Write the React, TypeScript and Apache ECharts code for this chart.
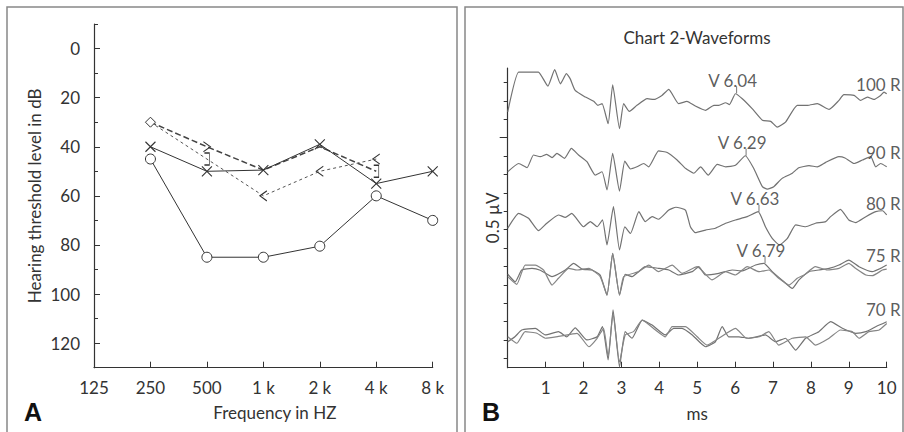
import React, { useEffect, useRef } from "react";
import * as echarts from "echarts";

// ---------- Panel A: audiogram ----------
const freqLabels = ["125", "250", "500", "1 k", "2 k", "4 k", "8 k"];
const dbMajorTicks = [0, 20, 40, 60, 80, 100, 120];
const dbMinorTicks = [-10, 10, 30, 50, 70, 90, 110];
// index in freqLabels, dB
const acCircle = [[1, 45], [2, 85], [3, 85], [4, 80.5], [5, 60], [6, 70]];
const acCross = [[1, 40], [2, 50], [3, 49.5], [4, 39], [5, 55], [6, 50]];
const bcLong = [[1, 30], [2, 40], [3, 49.5], [4, 40], [5, 50]];
const bcShort = [[1, 30], [2, 45], [3, 60], [4, 50], [5, 45]];

// ---------- Panel B: waveforms (ms, amplitude in tick units) ----------
const msTicks = [1, 2, 3, 4, 5, 6, 7, 8, 9, 10];
const ampTicks = [0.5, 1.5, 2.5, 3.5, 4.5, 5.5, 6.5, 7.5, 8.5, 9.5, 10.5, 11.5, 12.5, 13.5, 14.5, 15.5];
const ampLongTick = [12.5];
const wave100 = [[0,13.9],[0.29,16.07],[0.59,16.07],[0.81,16.07],[1.06,15.31],[1.24,16.2],[1.39,15.43],[1.55,15.98],[1.65,15.7],[1.78,15.07],[2.05,14.71],[2.27,14.48],[2.38,14.26],[2.49,14.35],[2.65,13.26],[2.77,15.38],[2.95,12.99],[3.06,14.35],[3.21,13.93],[3.41,14.26],[3.68,14.62],[3.85,14.58],[4.07,14.8],[4.25,15.13],[4.51,14.35],[4.73,14.48],[4.95,14.22],[5.22,13.99],[5.44,14.26],[5.57,14.26],[5.75,14.4],[5.85,14.3],[6.01,14.89],[6.19,14.62],[6.45,14.08],[6.72,13.45],[6.94,13.39],[7.11,13.08],[7.33,13.35],[7.64,14.26],[7.91,14.26],[8.17,14.35],[8.48,14.04],[8.74,14.53],[8.87,14.84],[9.14,14.8],[9.31,14.53],[9.49,14.71],[9.66,14.58],[9.84,14.8],[9.93,14.98],[10.0,14.89]];
const wave90 = [[0,10.65],[0.29,11.1],[0.51,10.87],[0.68,11.56],[0.86,11.47],[1.03,11.6],[1.17,11.42],[1.3,11.65],[1.5,11.38],[1.68,11.92],[1.87,11.56],[2.09,11.2],[2.31,10.47],[2.49,10.65],[2.62,9.66],[2.77,11.65],[2.95,9.6],[3.09,11.23],[3.24,10.8],[3.41,10.92],[3.59,11.1],[3.72,10.92],[3.98,11.78],[4.21,11.7],[4.47,11.29],[4.69,10.84],[4.91,10.57],[5.09,10.92],[5.29,10.47],[5.53,11.05],[5.75,10.92],[6.01,11.0],[6.27,11.52],[6.49,10.84],[6.72,9.84],[6.85,9.71],[7.02,9.84],[7.24,10.29],[7.51,10.57],[7.68,10.87],[7.95,10.98],[8.17,10.92],[8.39,11.16],[8.74,11.47],[8.9,11.4],[9.14,11.1],[9.36,11.29],[9.58,11.47],[9.71,10.92],[9.84,11.1],[10.0,10.92]];
const wave80 = [[0,7.58],[0.29,8.39],[0.55,8.12],[0.81,7.45],[1.03,7.85],[1.34,8.3],[1.52,8.17],[1.69,8.39],[2.0,7.66],[2.18,7.94],[2.36,7.66],[2.5,8.03],[2.62,6.67],[2.79,8.75],[2.95,6.4],[3.09,7.66],[3.24,7.3],[3.46,8.48],[3.63,7.94],[3.81,8.21],[3.98,8.07],[4.25,8.57],[4.44,8.72],[4.69,8.57],[4.82,7.66],[4.95,7.34],[5.22,7.48],[5.48,7.58],[5.75,7.85],[6.01,8.03],[6.32,8.21],[6.61,8.48],[6.8,7.66],[6.98,7.03],[7.17,6.67],[7.38,7.03],[7.6,7.76],[7.86,7.66],[8.12,7.85],[8.39,7.94],[8.52,8.21],[8.78,8.61],[9.0,8.03],[9.18,7.89],[9.45,8.21],[9.71,8.48],[9.89,8.53],[10.0,8.3]];
const wave75a = [[0,5.08],[0.2,4.67],[0.37,5.31],[0.64,5.4],[0.86,5.3],[1.17,4.95],[1.52,5.31],[1.74,5.67],[1.96,5.36],[2.22,5.31],[2.44,5.04],[2.62,3.95],[2.77,6.22],[2.95,3.95],[3.1,5.08],[3.28,4.95],[3.63,5.49],[3.98,5.4],[4.25,5.31],[4.51,5.04],[4.87,5.22],[5.04,5.49],[5.22,5.04],[5.57,5.13],[5.92,5.31],[6.19,5.26],[6.54,5.58],[6.76,5.67],[6.98,5.22],[7.29,4.67],[7.51,4.31],[7.68,4.76],[7.95,5.22],[8.21,5.31],[8.48,5.4],[8.74,5.58],[9.0,5.85],[9.27,5.49],[9.62,5.22],[9.84,5.4],[10.0,5.58]];
const wave75b = [[0,4.95],[0.24,4.53],[0.46,5.58],[0.73,5.58],[0.95,5.3],[1.17,4.49],[1.34,4.86],[1.61,5.4],[1.83,5.31],[2.14,5.4],[2.44,4.95],[2.62,3.95],[2.77,6.22],[2.95,3.95],[3.06,4.95],[3.46,5.22],[3.72,5.58],[3.98,5.22],[4.34,5.58],[4.6,5.13],[5.0,5.49],[5.39,4.77],[5.75,5.22],[6.01,5.04],[6.32,5.49],[6.63,5.22],[6.89,5.31],[7.15,4.86],[7.42,4.49],[7.64,4.86],[7.82,5.04],[8.12,5.49],[8.43,5.31],[8.74,5.4],[9.0,5.67],[9.18,5.4],[9.45,5.04],[9.62,5.0],[9.89,5.31],[10.0,5.36]];
const wave70a = [[0,1.41],[0.19,1.68],[0.37,2.05],[0.73,2.14],[0.99,1.78],[1.34,1.96],[1.56,1.68],[1.78,2.17],[2.09,1.51],[2.36,1.68],[2.5,2.23],[2.65,0.42],[2.78,3.14],[2.95,0.05],[3.1,1.96],[3.28,1.6],[3.55,2.59],[3.81,2.32],[4.16,1.78],[4.38,2.14],[4.6,2.14],[4.87,1.78],[5.22,1.14],[5.48,1.41],[5.66,2.23],[5.83,1.68],[6.1,1.68],[6.36,1.6],[6.8,1.78],[7.07,1.41],[7.33,1.6],[7.6,0.96],[7.86,1.6],[8.21,1.96],[8.52,2.5],[8.83,2.14],[9.18,1.87],[9.45,1.96],[9.71,2.23],[10.0,2.5]];
const wave70b = [[0,1.68],[0.24,1.33],[0.46,1.96],[0.77,1.87],[0.99,1.6],[1.34,1.7],[1.83,1.87],[2.14,1.14],[2.36,1.6],[2.53,2.14],[2.65,0.6],[2.78,2.95],[2.95,0.3],[3.1,1.78],[3.32,1.96],[3.55,2.59],[3.9,2.05],[4.16,1.68],[4.34,2.23],[4.69,2.23],[5.0,1.68],[5.26,1.23],[5.57,1.6],[6.01,2.14],[6.3,1.6],[6.63,1.68],[6.89,1.96],[7.15,1.23],[7.51,1.6],[7.86,1.68],[8.12,1.23],[8.48,1.6],[8.78,2.05],[9.09,1.96],[9.27,1.6],[9.53,1.96],[9.8,2.05],[10.0,2.4]];
const peakNames = ["V 6.04", "V 6.29", "V 6.63", "V 6.79"];
const peakPoints = [[6.04, 14.95], [6.29, 11.55], [6.63, 8.5], [6.79, 5.7]];
const traceNames = ["100 R", "90 R", "80 R", "75 R", "70 R"];
const traceLabelPos = [15.42, 11.7, 8.9, 6.12, 3.14];

const FONT = "Lato";
const INK = "#333";

const SYM_CROSS = "path://M0,0L10,10M10,0L0,10";
const SYM_DIAMOND = "path://M5,0L10,5L5,10L0,5Z";
const SYM_GT = "path://M0,0L8,5L0,10";
const SYM_LT = "path://M8,0L0,5L8,10";
const SYM_BRACKET = "path://M0,0L5,0L5,12L0,12";

function openSym(symbol: string, size: any) {
  return {
    symbol,
    symbolSize: size,
    itemStyle: { color: "rgba(0,0,0,0)", borderColor: INK, borderWidth: 1 },
  };
}

export default function App() {
  const ref = useRef<HTMLDivElement>(null);
  useEffect(() => {
    if (!ref.current) return;
    const chart = echarts.init(ref.current, null, { renderer: "svg" });
    const labelStyle = { fontFamily: FONT, fontSize: 17, color: INK };

    const bcLongData = bcLong.map((p, i) => {
      if (i === 0) return { value: p, symbol: SYM_DIAMOND, symbolSize: 10, itemStyle: { color: "#fff", borderColor: INK, borderWidth: 1 } };
      if (i === 1) return { value: p, ...openSym(SYM_GT, [7, 10]) };
      if (i === 4) return { value: p, ...openSym(SYM_BRACKET, [5, 12]) };
      return { value: p, symbol: "none" };
    });
    const bcShortData = bcShort.map((p, i) => {
      if (i === 0) return { value: p, symbol: "none" };
      if (i === 1) return { value: p, ...openSym(SYM_BRACKET, [5, 12]) };
      return { value: p, ...openSym(SYM_LT, [7, 10]) };
    });

    const waveSeries = [wave100, wave90, wave80, wave75a, wave75b, wave70a, wave70b].map((w, i) => ({
      type: "line",
      xAxisIndex: 1,
      yAxisIndex: 2,
      data: w,
      showSymbol: false,
      symbol: "none",
      smooth: 0.15,
      lineStyle: { color: i === 4 || i === 6 ? "#858585" : "#727272", width: 1.2 },
      z: 3,
    }));

    chart.setOption({
      animation: false,
      backgroundColor: "#fff",
      grid: [
        { left: 94, top: 24, width: 338.7, height: 343.7 },
        { left: 507.7, top: 68, width: 379, height: 299.7 },
      ],
      xAxis: [
        {
          gridIndex: 0,
          type: "value",
          min: 0,
          max: 6,
          interval: 1,
          axisLine: { onZero: false, lineStyle: { color: INK, width: 1.2 } },
          axisTick: { inside: true, length: 6, lineStyle: { color: INK } },
          splitLine: { show: false },
          axisLabel: { ...labelStyle, margin: 11, formatter: (v: number) => freqLabels[v] ?? "" },
          name: "Frequency in HZ",
          nameLocation: "middle",
          nameGap: 36,
          nameTextStyle: { ...labelStyle, padding: [0, 0, 0, 23] },
        },
        {
          gridIndex: 1,
          type: "value",
          min: 0,
          max: 10,
          interval: 1,
          axisLine: { onZero: false, lineStyle: { color: INK, width: 1.2 } },
          axisTick: { inside: true, length: 6, lineStyle: { color: INK }, customValues: msTicks },
          splitLine: { show: false },
          axisLabel: { ...labelStyle, margin: 11, customValues: msTicks },
          name: "ms",
          nameLocation: "middle",
          nameGap: 37,
          nameTextStyle: labelStyle,
        },
      ],
      yAxis: [
        {
          gridIndex: 0,
          type: "value",
          inverse: true,
          min: -10,
          max: 130,
          axisLine: { show: true, onZero: false, lineStyle: { color: INK, width: 1.2 } },
          axisTick: { show: true, inside: true, length: 6, lineStyle: { color: INK }, customValues: dbMajorTicks },
          splitLine: { show: false },
          axisLabel: { ...labelStyle, margin: 14, customValues: dbMajorTicks },
          name: "Hearing threshold level in dB",
          nameLocation: "middle",
          nameGap: 51,
          nameTextStyle: labelStyle,
        },
        {
          gridIndex: 0,
          type: "value",
          inverse: true,
          min: -10,
          max: 130,
          position: "left",
          axisLine: { show: false, onZero: false },
          axisTick: { show: true, inside: true, length: 4, lineStyle: { color: INK }, customValues: dbMinorTicks },
          splitLine: { show: false },
          axisLabel: { show: false },
        },
        {
          gridIndex: 1,
          type: "value",
          min: 0,
          max: 16.29,
          axisLine: { show: true, onZero: false, lineStyle: { color: INK, width: 1.2 } },
          axisTick: { show: true, length: 4, lineStyle: { color: INK }, customValues: ampTicks },
          splitLine: { show: false },
          axisLabel: { show: false },
          name: "0.5 µV",
          nameLocation: "middle",
          nameGap: 7,
          nameTextStyle: labelStyle,
        },
        {
          gridIndex: 1,
          type: "value",
          min: 0,
          max: 16.29,
          position: "left",
          axisLine: { show: false, onZero: false },
          axisTick: { show: true, length: 8, lineStyle: { color: INK }, customValues: ampLongTick },
          splitLine: { show: false },
          axisLabel: { show: false },
        },
      ],
      graphic: [
        { type: "rect", shape: { x: 7, y: 7, width: 450, height: 430 }, style: { fill: "none", stroke: "#888", lineWidth: 1.5 }, z: -1 },
        { type: "rect", shape: { x: 465, y: 7, width: 438, height: 430 }, style: { fill: "none", stroke: "#888", lineWidth: 1.5 }, z: -1 },
        { type: "text", x: 24, y: 412, style: { text: "A", font: "bold 25px 'Liberation Sans'", fill: "#111", verticalAlign: "middle" } },
        { type: "text", x: 482, y: 412, style: { text: "B", font: "bold 25px 'Liberation Sans'", fill: "#111", verticalAlign: "middle" } },
        { type: "text", x: 697, y: 37, style: { text: "Chart 2-Waveforms", font: `17px ${FONT}`, fill: INK, align: "center", verticalAlign: "middle" } },
      ],
      series: [
        {
          type: "line",
          xAxisIndex: 0,
          yAxisIndex: 0,
          data: acCircle,
          symbol: "circle",
          symbolSize: 10,
          itemStyle: { color: "#fff", borderColor: INK, borderWidth: 1 },
          lineStyle: { color: INK, width: 1 },
          z: 4,
        },
        {
          type: "line",
          xAxisIndex: 0,
          yAxisIndex: 0,
          data: acCross,
          symbol: SYM_CROSS,
          symbolSize: 10,
          itemStyle: { color: INK, borderColor: INK, borderWidth: 1.1 },
          lineStyle: { color: INK, width: 1 },
          z: 4,
        },
        {
          type: "line",
          xAxisIndex: 0,
          yAxisIndex: 0,
          data: bcLongData,
          lineStyle: { color: "#444", width: 1.5, type: [6, 3] },
          itemStyle: { color: INK },
          z: 3,
        },
        {
          type: "line",
          xAxisIndex: 0,
          yAxisIndex: 0,
          data: bcShortData,
          lineStyle: { color: "#555", width: 1, type: [3, 3] },
          itemStyle: { color: INK },
          z: 3,
        },
        ...waveSeries,
        {
          type: "scatter",
          xAxisIndex: 1,
          yAxisIndex: 2,
          data: peakPoints,
          symbol: "rect",
          symbolSize: [1, 7],
          symbolOffset: [0, -3],
          itemStyle: { color: "#555" },
          z: 5,
        },
        {
          type: "scatter",
          xAxisIndex: 1,
          yAxisIndex: 2,
          data: peakPoints.map((p, i) => ({ value: p, name: peakNames[i] })),
          symbol: "circle",
          symbolSize: 1,
          itemStyle: { color: "rgba(0,0,0,0)" },
          label: { show: true, position: "inside", align: "center", verticalAlign: "bottom", offset: [-4, -4], formatter: (p: any) => p.name, ...labelStyle },
          z: 5,
        },
        {
          type: "scatter",
          xAxisIndex: 1,
          yAxisIndex: 2,
          data: traceLabelPos.map((v, i) => ({ value: [10, v], name: traceNames[i] })),
          symbol: "circle",
          symbolSize: 1,
          itemStyle: { color: "rgba(0,0,0,0)" },
          label: { show: true, position: "inside", align: "right", verticalAlign: "middle", offset: [14, 0], formatter: (p: any) => p.name, ...labelStyle },
          z: 5,
        },
      ],
    });
    return () => chart.dispose();
  }, []);
  return <div ref={ref} style={{ position: "fixed", left: 0, top: 0, width: 904, height: 432, background: "#fff" }} />;
}
